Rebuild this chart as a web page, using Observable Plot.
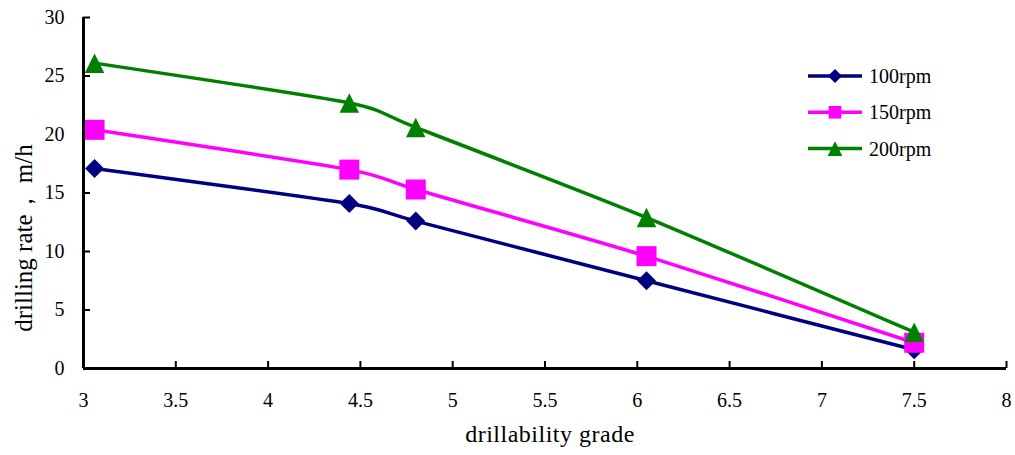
<!DOCTYPE html>
<html>
<head>
<meta charset="utf-8">
<script src="https://cdn.jsdelivr.net/npm/d3@7"></script>
<script src="https://cdn.jsdelivr.net/npm/@observablehq/plot@0.6"></script>
<style>
  html, body { margin: 0; padding: 0; background: #fff; }
  #wrap { position: relative; width: 1015px; height: 455px; }
  #legend { position: absolute; left: 0; top: 0; pointer-events: none; }
</style>
</head>
<body>
<div id="wrap"></div>
<script>
// ---- data ----
const grades = [3.06, 4.44, 4.80, 6.05, 7.50];
const rpm100 = [17.1, 14.1, 12.6, 7.5, 1.6];
const rpm150 = [20.4, 17.0, 15.3, 9.6, 2.2];
const rpm200 = [26.1, 22.7, 20.6, 12.9, 3.1];
const seriesNames = ["100rpm", "150rpm", "200rpm"];
const xTicks = [3, 3.5, 4, 4.5, 5, 5.5, 6, 6.5, 7, 7.5, 8];
const yTicks = [0, 5, 10, 15, 20, 25, 30];
const xLabel = "drillability grade";
const yLabel = "drilling rate， m/h";

// ---- styles ----
const seriesColors = ["#000080", "#FF00FF", "#008000"];
const font = "'Liberation Serif', 'Times New Roman', serif";

// Excel-like marker shapes (half-extent = r)
const diamondSym = {draw(ctx, size) { const r = Math.sqrt(size / Math.PI);
  ctx.moveTo(0, -r); ctx.lineTo(r, 0); ctx.lineTo(0, r); ctx.lineTo(-r, 0); ctx.closePath(); }};
const squareSym = {draw(ctx, size) { const r = Math.sqrt(size / Math.PI);
  ctx.moveTo(-r, -r); ctx.lineTo(r, -r); ctx.lineTo(r, r); ctx.lineTo(-r, r); ctx.closePath(); }};
const triangleSym = {draw(ctx, size) { const r = Math.sqrt(size / Math.PI);
  ctx.moveTo(0, -r); ctx.lineTo(r, r); ctx.lineTo(-r, r); ctx.closePath(); }};
const seriesSymbols = [diamondSym, squareSym, triangleSym];
const seriesR = [9.5, 10, 9.75];
const legendR = [7, 6.3, 7.3];

const seriesValues = [rpm100, rpm150, rpm200];
const rows = seriesValues.map((vals, s) =>
  grades.map((g, i) => ({grade: g, rate: vals[i], series: seriesNames[s]})));

const seriesMarks = rows.flatMap((data, s) => [
  Plot.line(data, {x: "grade", y: "rate", stroke: seriesColors[s], strokeWidth: 3.5, curve: "cardinal", tension: 0.35}),
  Plot.dot(data, {x: "grade", y: "rate", symbol: seriesSymbols[s], r: seriesR[s], fill: seriesColors[s], stroke: "none"})
]);

const chart = Plot.plot({
  width: 1015,
  height: 455,
  marginLeft: 83,
  marginRight: 9,
  marginTop: 17,
  marginBottom: 87,
  style: {fontFamily: font, fontSize: "20px", color: "#000", background: "#fff", overflow: "visible"},
  x: {domain: [3, 8], label: null},
  y: {domain: [0, 30], label: null},
  marks: [
    Plot.axisX(xTicks, {tickSize: 0, tickPadding: 24, tickFormat: d => String(d), label: null, fontSize: 20}),
    Plot.axisY(yTicks, {tickSize: 0, tickPadding: 19, tickFormat: d => String(d), label: null, fontSize: 20}),
    Plot.tickY(yTicks, {y: d => d, insetRight: 916, stroke: "#000", strokeWidth: 2}),
    Plot.tickX(xTicks, {x: d => d, insetTop: 344, stroke: "#000", strokeWidth: 2}),
    ...seriesMarks,
    Plot.ruleX([3], {stroke: "#000", strokeWidth: 3}),
    Plot.ruleY([0], {stroke: "#000", strokeWidth: 3}),
    Plot.text([xLabel], {text: d => d, frameAnchor: "bottom", dy: 73, dx: 5, fontSize: 24, fill: "#000"}),
    Plot.text([yLabel], {text: d => d, frameAnchor: "left", textAnchor: "middle", rotate: -90, dx: -60, dy: 45, fontSize: 25, fill: "#000"})
  ]
});
document.getElementById("wrap").appendChild(chart);
// slight letter spacing for the x title
d3.select(chart).selectAll("text").filter(function() { return this.textContent === xLabel; })
  .attr("letter-spacing", "0.5px");

// ---- legend overlay ----
const lg = d3.select("#wrap").append("svg")
  .attr("id", "legend").attr("width", 1015).attr("height", 455);
const legendX0 = 808, legendX1 = 862, legendTextX = 869, legendY0 = 76, legendStep = 36.3;
seriesNames.forEach((name, s) => {
  const y = legendY0 + s * legendStep;
  const g = lg.append("g");
  g.append("line").attr("x1", legendX0).attr("x2", legendX1).attr("y1", y).attr("y2", y)
    .attr("stroke", seriesColors[s]).attr("stroke-width", 3.5);
  g.append("path").attr("d", d3.symbol(seriesSymbols[s], Math.PI * legendR[s] * legendR[s])())
    .attr("transform", `translate(${(legendX0 + legendX1) / 2},${y})`)
    .attr("fill", seriesColors[s]);
  g.append("text").attr("x", legendTextX).attr("y", y).attr("dy", "0.35em")
    .attr("font-family", font).attr("font-size", 20).attr("fill", "#000").text(name);
});
</script>
</body>
</html>
